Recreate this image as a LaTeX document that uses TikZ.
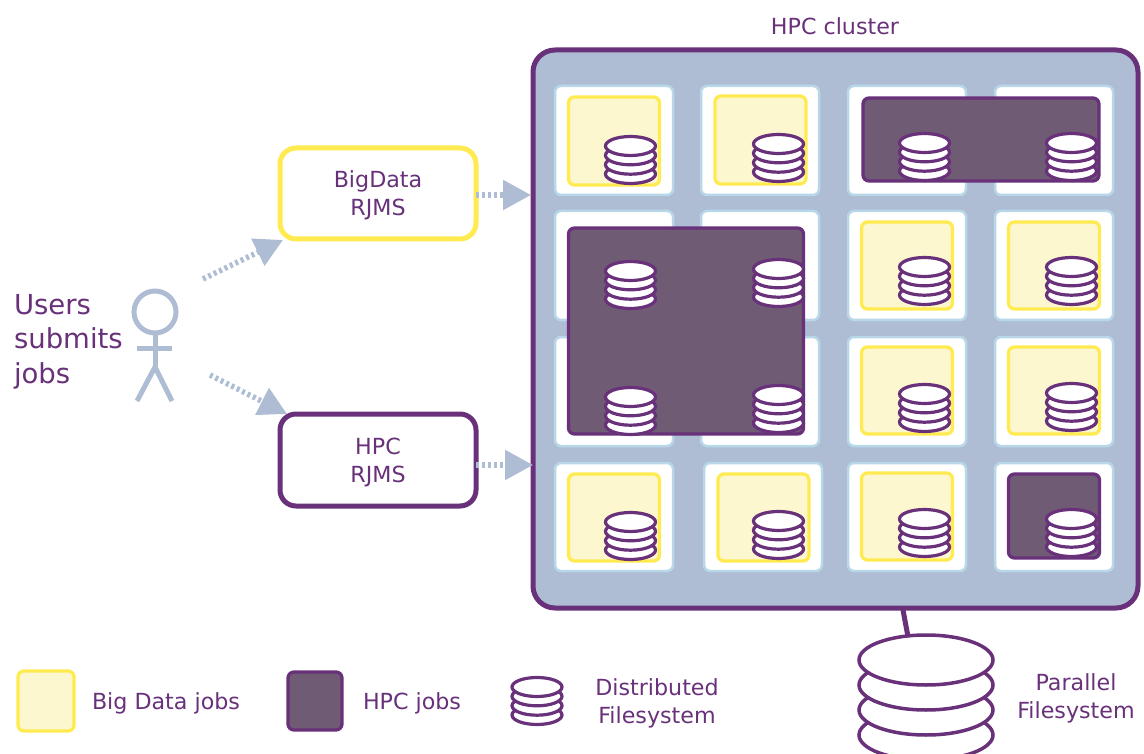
\documentclass[tikz,border=0pt]{standalone}
\usepackage{fontspec}
\setmainfont{DejaVu Sans}
\usetikzlibrary{shapes.geometric,arrows.meta}
\definecolor{hpcpurple}{HTML}{68317A}
\definecolor{hpcfill}{HTML}{705B75}
\definecolor{bdyellow}{HTML}{FFEB50}
\definecolor{bdfill}{HTML}{FCF7CE}
\definecolor{steel}{HTML}{AEBDD3}
\definecolor{cellline}{HTML}{B8D8EA}
\tikzset{
  x=1pt,y=-1pt,
  every node/.style={inner sep=0pt,outer sep=0pt,text=hpcpurple},
  cluster/.style={draw=hpcpurple,fill=steel,line width=5pt,rounded corners=22pt},
  cell/.style={draw=cellline,fill=white,line width=2.5pt,rounded corners=6pt},
  bdjob/.style={draw=bdyellow,fill=bdfill,line width=3.3pt,rounded corners=6pt},
  hpcjob/.style={draw=hpcpurple,fill=hpcfill,line width=3.3pt,rounded corners=6pt},
  rjmsbd/.style={draw=bdyellow,fill=white,line width=5pt,rounded corners=16pt},
  rjmshpc/.style={draw=hpcpurple,fill=white,line width=5pt,rounded corners=16pt},
  disc/.style={ellipse,draw=hpcpurple,fill=white,line width=3.2pt,minimum width=50pt,minimum height=19pt},
  bigdisc/.style={ellipse,draw=hpcpurple,fill=white,line width=3.5pt,minimum width=134pt,minimum height=50pt},
  label/.style={font=\fontsize{22.2}{28}\selectfont,align=center},
  biglabel/.style={font=\fontsize{27.5}{34.5}\selectfont,align=left},
  submit/.style={draw=steel,line width=5.5pt,dash pattern=on 3pt off 3pt,-{Triangle[length=28pt,width=29pt,fill=steel]}},
  actor/.style={draw=steel,line width=5pt},
  link/.style={draw=hpcpurple,line width=5pt}
}
\newcommand{\bx}[6]{\node[#1,minimum width={#4-#2},minimum height={#5-#3}] (#6) at ({(#2+#4)/2},{(#3+#5)/2}) {};}
\newcommand{\stack}[3]{%
  \node[disc] (#1d) at (#2,{#3+28}) {};
  \node[disc] (#1c) at (#2,{#3+18.7}) {};
  \node[disc] (#1b) at (#2,{#3+9.3}) {};
  \node[disc] (#1a) at (#2,#3) {};}
\begin{document}
\begin{tikzpicture}
\useasboundingbox (0,0) rectangle (1144,754);
\node[label] (title) at (835,26) {HPC cluster};
\bx{cluster}{533}{50}{1138}{608}{cluster}
% cells
\bx{cell}{555}{86}{673}{195}{c11}
\bx{cell}{701}{86}{819}{195}{c12}
\bx{cell}{848}{86}{966}{195}{c13}
\bx{cell}{995}{86}{1113}{195}{c14}
\bx{cell}{555}{211}{673}{320}{c21}
\bx{cell}{701}{211}{819}{320}{c22}
\bx{cell}{848}{211}{966}{320}{c23}
\bx{cell}{995}{211}{1113}{320}{c24}
\bx{cell}{555}{337}{673}{446}{c31}
\bx{cell}{701}{337}{819}{446}{c32}
\bx{cell}{848}{337}{966}{446}{c33}
\bx{cell}{995}{337}{1113}{446}{c34}
\bx{cell}{555}{463}{673}{571}{c41}
\bx{cell}{704}{463}{822}{571}{c42}
\bx{cell}{848}{463}{966}{571}{c43}
\bx{cell}{995}{463}{1113}{571}{c44}
% jobs
\bx{bdjob}{568.5}{97}{659.5}{185}{j1}
\bx{bdjob}{715}{96}{806}{184}{j2}
\bx{hpcjob}{863}{98}{1099}{181}{j3}
\bx{hpcjob}{568.5}{228}{803.5}{434}{j4}
\bx{bdjob}{861.5}{222}{952.5}{309}{j5}
\bx{bdjob}{1008.5}{222}{1099.5}{309}{j6}
\bx{bdjob}{861.5}{347}{952.5}{434}{j7}
\bx{bdjob}{1008.5}{347}{1099.5}{434}{j8}
\bx{bdjob}{568.5}{474}{659.5}{561}{j9}
\bx{bdjob}{718}{474}{809}{561}{j10}
\bx{bdjob}{861.5}{473}{952.5}{560}{j11}
\bx{hpcjob}{1008.5}{474}{1099.5}{558}{j12}
% distributed filesystem discs
\stack{s1}{630.5}{146}
\stack{s2}{778.5}{144}
\stack{s3}{924.5}{143}
\stack{s4}{1071.5}{143}
\stack{s5}{630.5}{271}
\stack{s6}{778.5}{269}
\stack{s7}{924.5}{267}
\stack{s8}{1071.5}{267}
\stack{s9}{630.5}{397}
\stack{s10}{778.5}{395}
\stack{s11}{924.5}{394}
\stack{s12}{1071.5}{393}
\stack{s13}{630.5}{522}
\stack{s14}{778.5}{521}
\stack{s15}{924.5}{519}
\stack{s16}{1071.5}{519}
% RJMS
\bx{rjmsbd}{280}{148}{476}{239}{bigdata}
\bx{rjmshpc}{280}{414}{476}{506}{hpc}
\node[label] (bigdatat) at (378,195.5) {BigData\\RJMS};
\node[label] (hpct) at (378,462) {HPC\\RJMS};
% actor
\node[draw=steel,line width=5pt,circle,minimum size=42pt] (head) at (155,312) {};
\coordinate (hip) at (155,367);
\coordinate (armL) at (137,348);
\coordinate (armR) at (172,348);
\coordinate (legL) at (137,401);
\coordinate (legR) at (172,401);
\draw[actor] (head.south) -- (hip);
\draw[actor] (armL) -- (armR);
\draw[actor] (legL) -- (hip) -- (legR);
\node[biglabel,anchor=west] (users) at (14,341.5) {Users\\submits\\jobs};
% arrows
\coordinate (u1) at (203,279);
\coordinate (u2) at (210,375);
\draw[submit] (u1) -- ([xshift=3pt,yshift=-1pt]bigdata.south west);
\draw[submit] (u2) -- ([xshift=7pt]hpc.north west);
\draw[submit] ([yshift=-1.5pt]bigdata.east) -- ([xshift=-2pt,yshift=-1.5pt]bigdata.east -| cluster.west);
\draw[submit] ([yshift=-5pt]hpc.east) -- ([yshift=-5pt]hpc.east -| cluster.west);
% parallel filesystem
\node[bigdisc] (pd) at (926,735) {};
\node[bigdisc] (pc) at (926,710) {};
\node[bigdisc] (pb) at (926,685) {};
\node[bigdisc] (pa) at (926,660) {};
\coordinate (pfslink) at (903,610);
\draw[link] (pfslink) -- (pa.127);
\node[label] (pfst) at (1076,698) {Parallel\\Filesystem};
% legend
\bx{bdjob}{18}{671}{74}{731}{lg1}
\bx{hpcjob}{288}{672}{342}{730}{lg2}
\node[label,anchor=west] (lg1t) at (92,703.5) {Big Data jobs};
\node[label,anchor=west] (lg2t) at (363,703.5) {HPC jobs};
\stack{lg3}{537}{687}
\node[label] (lg3t) at (657,703) {Distributed\\Filesystem};
\end{tikzpicture}
\end{document}
